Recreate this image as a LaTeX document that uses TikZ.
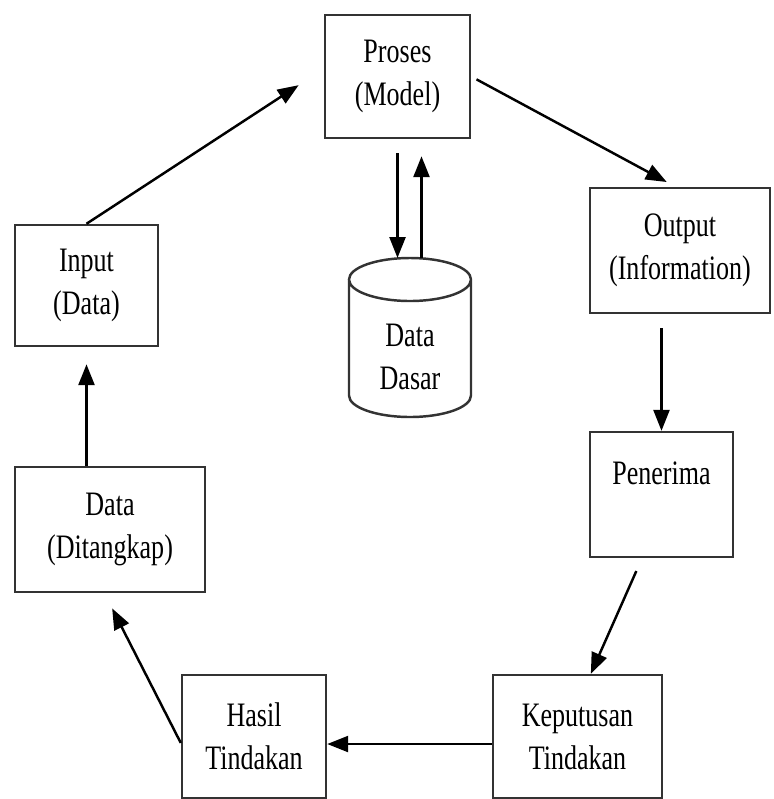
\documentclass[tikz,border=0pt]{standalone}
\usepackage{fontspec}
\setmainfont[FakeStretch=0.76]{Liberation Serif}
\usetikzlibrary{arrows.meta}

\begin{document}
\begin{tikzpicture}[arrow/.style={%
        draw=black,line width=1.4pt,-{Triangle[length=0.42cm,width=0.32cm]}%
      },%
      box/.style={draw=black!80,line width=1.4pt,inner sep=0pt,align=center},%
      every node/.style={font=\fontsize{19.5}{24.5}\selectfont}%
      ]
      \useasboundingbox (0,0) rectangle (15.46,-15.98);%
      %% create nodes
      \node[box,minimum width=2.9cm,minimum height=2.46cm] (proses) at (7.95,-1.53) {Proses\\(Model)};%
      \node[box,minimum width=3.6cm,minimum height=2.5cm] (output) at (13.6,-5.01) {Output\\(Information)};%
      \node[box,minimum width=2.86cm,minimum height=2.42cm] (input) at (1.73,-5.71) {Input\\(Data)};%
      \node[box,minimum width=3.8cm,minimum height=2.5cm] (ditangkap) at (2.2,-10.59) {Data\\(Ditangkap)};%
      \node[box,minimum width=2.86cm,minimum height=2.5cm] (penerima) at (13.23,-9.89) {Penerima\\ \mbox{}};%
      \node[box,minimum width=2.88cm,minimum height=2.46cm] (hasil) at (5.08,-14.73) {Hasil\\Tindakan};%
      \node[box,minimum width=3.38cm,minimum height=2.46cm] (keputusan) at (11.55,-14.73) {Keputusan\\Tindakan};%
      %% the data store
      \node[inner sep=0pt,outer sep=0pt,minimum width=2.44cm,minimum height=3.18cm] (dasar) at (8.2,-6.75) {};%
      \node[align=center] (dasartxt) at (8.2,-7.13) {Data\\Dasar};%
      \draw[draw=black!80,line width=1.4pt] ([yshift=-0.43cm]dasar.north west) --
      ([yshift=0.43cm]dasar.south west)
      arc[start angle=180,end angle=360,x radius=1.22cm,y radius=0.43cm] --
      ([yshift=-0.43cm]dasar.north east)
      arc[start angle=0,end angle=360,x radius=1.22cm,y radius=0.43cm];%
      %% draw arrows round the cycle
      \draw[arrow,shorten >=0.34cm] (input.south |- ditangkap.north) -- (input.south);%
      \draw[arrow,shorten >=0.6cm] (input.north) -- (proses.174);%
      \draw[arrow,shorten <=0.12cm,shorten >=0.2cm] (proses.east) -- (output.94);%
      \draw[arrow] ([yshift=-0.28cm]output.south -| penerima.north) -- (penerima.north);%
      \draw[arrow,shorten <=0.28cm] (penerima.253) -- (keputusan.78);%
      \draw[arrow] ([yshift=-0.15cm]keputusan.west) -- ([yshift=-0.15cm]hasil.east);%
      \draw[arrow,shorten >=0.34cm] (hasil.185) -- (ditangkap.265);%
      %% to and from the store
      \draw[arrow] ([yshift=-0.28cm]proses.south) -- (proses.south |- dasar.north);%
      \draw[arrow,shorten >=0.34cm] ([xshift=0.48cm]proses.south |- dasar.north) --
      ([xshift=0.48cm]proses.south);%
    \end{tikzpicture}
\end{document}
